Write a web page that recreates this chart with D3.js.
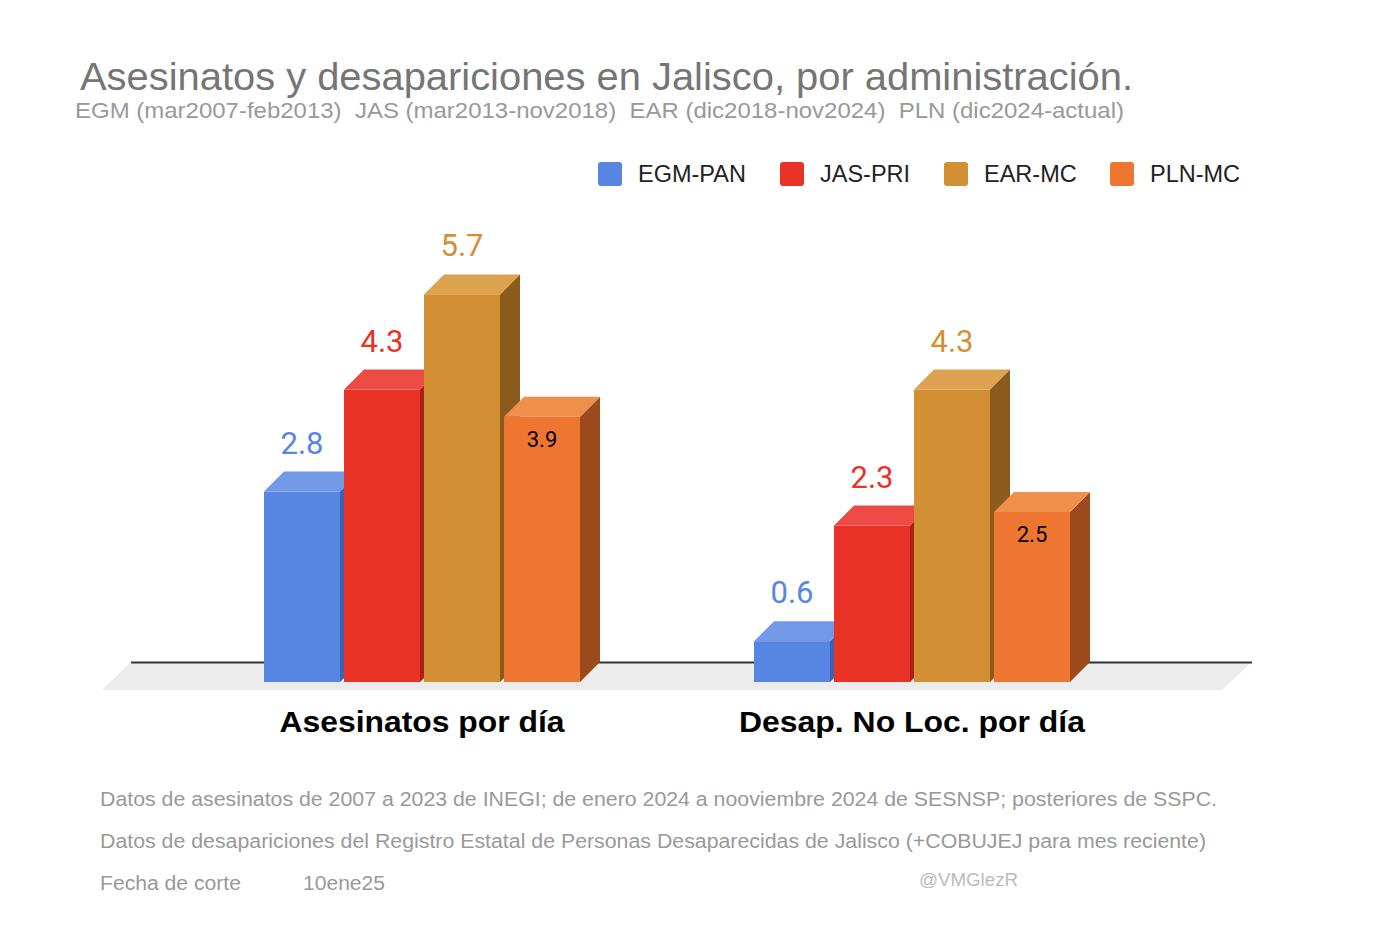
<!doctype html>
<html>
<head>
<meta charset="utf-8">
<style>
  body { margin: 0; background: #fff; font-family: "Liberation Sans", Arial, sans-serif; }
</style>
</head>
<body>
<div id="chart"></div>
<script src="https://cdnjs.cloudflare.com/ajax/libs/d3/7.8.5/d3.min.js"></script>
<script>
  // data
  var categories = ['Asesinatos por día', 'Desap. No Loc. por día']
  var series = ['EGM-PAN', 'JAS-PRI', 'EAR-MC', 'PLN-MC']
  var values = {
    'EGM-PAN': [2.8, 0.6],
    'JAS-PRI': [4.3, 2.3],
    'EAR-MC': [5.7, 4.3],
    'PLN-MC': [3.9, 2.5]
  }
  var title = 'Asesinatos y desapariciones en Jalisco, por administración.'
  var subtitle = 'EGM (mar2007-feb2013)\u00a0\u00a0JAS (mar2013-nov2018)\u00a0\u00a0EAR (dic2018-nov2024)\u00a0\u00a0PLN (dic2024-actual)'
  var notes = [
    'Datos de asesinatos de 2007 a 2023 de INEGI; de enero 2024 a nooviembre 2024 de SESNSP; posteriores de SSPC.',
    'Datos de desapariciones del Registro Estatal de Personas Desaparecidas de Jalisco (+COBUJEJ para mes reciente)'
  ]

  var width = 1380, height = 926
  var baseY = 682       // front bottom of the bars
  var depth = 20        // 3d offset

  // front, top, side
  var colors = {
    'EGM-PAN': ['#5685e2', '#7299e8', '#3a63b3'],
    'JAS-PRI': ['#e83226', '#ec4a42', '#a8211a'],
    'EAR-MC': ['#d38f33', '#dca24f', '#8b5b1e'],
    'PLN-MC': ['#ee7630', '#f08e4c', '#9c4a1b']
  }
  var labelColor = {
    'EGM-PAN': '#5685e2', 'JAS-PRI': '#e83226', 'EAR-MC': '#d38f33', 'PLN-MC': '#000'
  }

  var svg = d3.select('#chart').append('svg')
    .attr('width', width)
    .attr('height', height)

  var x0 = d3.scaleBand()
    .domain(categories)
    .range([264, 1070])
    .paddingInner(174 / 490)
    .paddingOuter(0)

  var x1 = d3.scaleBand()
    .domain(series)
    .range([0, x0.bandwidth()])
    .paddingInner(0.05)

  var y = d3.scaleLinear()
    .domain([0, 6])
    .range([baseY, baseY - 6 * 68])

  // title block
  svg.append('text')
    .attr('x', 80).attr('y', 90)
    .attr('font-size', 38)
    .attr('fill', '#757575')
    .attr('textLength', 1053).attr('lengthAdjust', 'spacingAndGlyphs')
    .text(title)

  svg.append('text')
    .attr('x', 75).attr('y', 118)
    .attr('font-size', 22)
    .attr('fill', '#999')
    .attr('textLength', 1049).attr('lengthAdjust', 'spacingAndGlyphs')
    .text(subtitle)

  // legend
  var legendX = [598, 780, 944, 1110]
  var legend = svg.append('g').selectAll('g')
    .data(series)
    .join('g')
    .attr('transform', (d, i) => `translate(${legendX[i]},162)`)
  legend.append('rect')
    .attr('width', 24).attr('height', 24).attr('rx', 3)
    .attr('fill', d => colors[d][0])
  legend.append('text')
    .attr('x', 40).attr('y', 20)
    .attr('font-size', 23.5)
    .attr('fill', '#222')
    .text(d => d)

  // floor
  svg.append('path')
    .attr('d', `M131,${baseY - depth} L1252,${baseY - depth} L1222,690 L102,690 Z`)
    .attr('fill', '#ececec')
  svg.append('line')
    .attr('x1', 131).attr('x2', 1252)
    .attr('y1', baseY - depth + 0.5).attr('y2', baseY - depth + 0.5)
    .attr('stroke', '#333').attr('stroke-width', 2)

  // bars, left to right so each one covers the side of the previous
  var bars = []
  categories.forEach((c, ci) => {
    series.forEach(s => {
      bars.push({ cat: c, series: s, value: values[s][ci] })
    })
  })

  var bar = svg.append('g').selectAll('g')
    .data(bars)
    .join('g')

  bar.each(function(d) {
    var g = d3.select(this)
    var bx = x0(d.cat) + x1(d.series)
    var bw = x1.bandwidth()
    var top = y(d.value)
    var c = colors[d.series]

    // side face
    g.append('path')
      .attr('d', `M${bx + bw},${top} L${bx + bw + depth},${top - depth} L${bx + bw + depth},${baseY - depth} L${bx + bw},${baseY} Z`)
      .attr('fill', c[2])
    // top face
    g.append('path')
      .attr('d', `M${bx},${top} L${bx + depth},${top - depth} L${bx + bw + depth},${top - depth} L${bx + bw},${top} Z`)
      .attr('fill', c[1])
    // front face
    g.append('rect')
      .attr('x', bx).attr('y', top)
      .attr('width', bw).attr('height', baseY - top)
      .attr('fill', c[0])

    var inside = d.series === 'PLN-MC'
    g.append('text')
      .attr('x', bx + bw / 2)
      .attr('y', inside ? top + 30 : top - depth - 18)
      .attr('text-anchor', 'middle')
      .attr('font-family', 'Roboto, sans-serif')
      .attr('font-size', inside ? 22 : 31)
      .attr('fill', labelColor[d.series])
      .text(d.value.toFixed(1))
  })

  // category labels
  var catWidth = [285, 346]
  svg.append('g').selectAll('text')
    .data(categories)
    .join('text')
    .attr('x', d => x0(d) + x0.bandwidth() / 2)
    .attr('y', 732)
    .attr('text-anchor', 'middle')
    .attr('font-size', 30)
    .attr('font-weight', 'bold')
    .attr('fill', '#000')
    .attr('textLength', (d, i) => catWidth[i]).attr('lengthAdjust', 'spacingAndGlyphs')
    .text(d => d)

  // notes
  var noteWidth = [1117, 1106]
  svg.append('g').selectAll('text')
    .data(notes)
    .join('text')
    .attr('x', 100)
    .attr('y', (d, i) => 806 + i * 42)
    .attr('font-size', 20)
    .attr('fill', '#999')
    .attr('textLength', (d, i) => noteWidth[i]).attr('lengthAdjust', 'spacingAndGlyphs')
    .text(d => d)

  svg.append('text')
    .attr('x', 100).attr('y', 890)
    .attr('font-size', 20).attr('fill', '#999')
    .attr('textLength', 141).attr('lengthAdjust', 'spacingAndGlyphs')
    .text('Fecha de corte')
  svg.append('text')
    .attr('x', 303).attr('y', 890)
    .attr('font-size', 20).attr('fill', '#999')
    .attr('textLength', 82).attr('lengthAdjust', 'spacingAndGlyphs')
    .text('10ene25')
  svg.append('text')
    .attr('x', 919).attr('y', 886)
    .attr('font-size', 18).attr('fill', '#bbb')
    .attr('textLength', 99).attr('lengthAdjust', 'spacingAndGlyphs')
    .text('@VMGlezR')
</script>
</body>
</html>
